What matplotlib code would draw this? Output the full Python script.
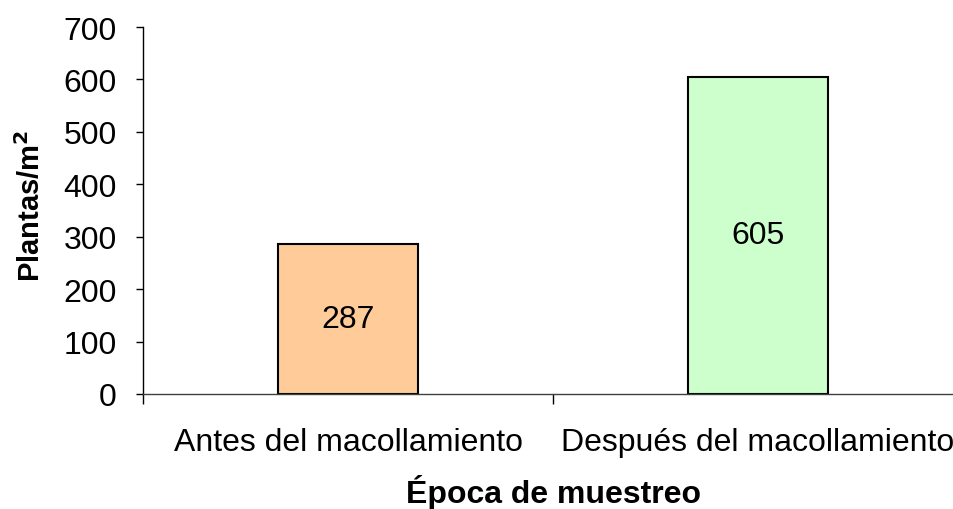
import matplotlib.pyplot as plt

# data
categorias = ["Antes del macollamiento", "Después del macollamiento"]
plantas = [287, 605]
colores = ["#FFCC99", "#CCFFCC"]
y_ticks = [0, 100, 200, 300, 400, 500, 600, 700]

plt.rcParams["font.family"] = ["Liberation Sans", "DejaVu Sans"]

fig = plt.figure(figsize=(9.54, 5.10), dpi=100)
ax = fig.add_axes([143 / 954, 115 / 510, 820 / 954, 367 / 510])

pos = list(range(len(categorias)))
bars = ax.bar(pos, plantas, width=0.34, color=colores, edgecolor="black", linewidth=1.5)

for b, v in zip(bars, plantas):
    ax.text(b.get_x() + b.get_width() / 2, v / 2, str(v),
            ha="center", va="center", fontsize=23)

ax.set_xlim(-0.5, len(categorias) - 0.5)
ax.set_ylim(0, 700)
ax.set_yticks(y_ticks)
ax.tick_params(axis="y", labelsize=23, length=5, width=1, pad=14)

ax.set_xticks(pos)
ax.set_xticklabels(categorias, fontsize=23)
ax.tick_params(axis="x", length=0, pad=24)
ax.set_xticks([p - 0.5 for p in pos] + [len(pos) - 0.5], minor=True)
ax.tick_params(axis="x", which="minor", length=7, width=1)

ax.spines["top"].set_visible(False)
ax.spines["right"].set_visible(False)
ax.spines["left"].set_linewidth(1)
ax.spines["bottom"].set_linewidth(1)
ax.spines["bottom"].set_color("#404040")

ax.set_ylabel("Plantas/m$^\\mathbf{2}$", fontsize=21, fontweight="bold")
ax.yaxis.set_label_coords(-97 / 820, 0.515)
ax.set_xlabel("Época de muestreo", fontsize=23, fontweight="bold", labelpad=12)

fig.savefig("out.png", dpi=100)
